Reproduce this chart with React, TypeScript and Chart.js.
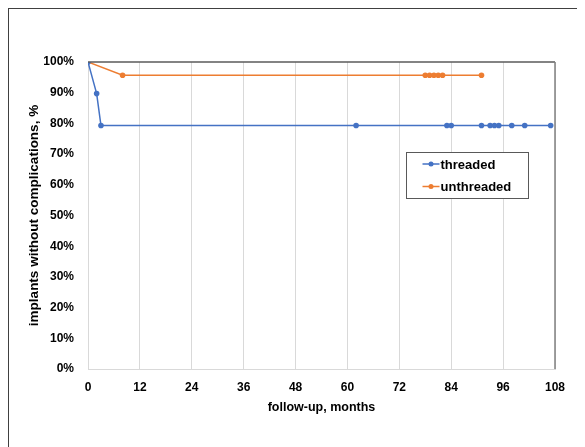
import React, { useEffect, useRef } from "react";
import { Chart, registerables } from "chart.js";

Chart.register(...registerables);

const threadedMonths = [0, 2, 3, 62, 83, 84, 91, 93, 94, 95, 98, 101, 107];
const threadedValues = [100, 89.7, 79.3, 79.3, 79.3, 79.3, 79.3, 79.3, 79.3, 79.3, 79.3, 79.3, 79.3];
const unthreadedMonths = [0, 8, 78, 79, 80, 81, 82, 91];
const unthreadedValues = [100, 95.7, 95.7, 95.7, 95.7, 95.7, 95.7, 95.7];
const seriesNames = ["threaded", "unthreaded"];
const seriesColors = ["#4472C4", "#ED7D31"];
const xTitle = "follow-up, months";
const yTitle = "implants without complications, %";

const FONT = "'Liberation Sans', Arial, sans-serif";

const framePlugin = {
  id: "framePlugin",
  afterDraw(chart: any) {
    const { ctx, chartArea } = chart;
    const { left, right, top, bottom } = chartArea;
    ctx.save();
    ctx.strokeStyle = "#5a5a5a";
    ctx.lineWidth = 1.5;
    ctx.beginPath();
    ctx.moveTo(left, top);
    ctx.lineTo(right, top);
    ctx.stroke();
    ctx.strokeStyle = "#808080";
    ctx.beginPath();
    ctx.moveTo(right, top);
    ctx.lineTo(right, bottom);
    ctx.stroke();

    const w = chartArea.width;
    const h = chartArea.height;
    const bx = Math.round(left + 0.681 * w) + 0.5;
    const by = Math.round(top + 0.293 * h) + 0.5;
    const bw = 122;
    const bh = 46;
    ctx.fillStyle = "#ffffff";
    ctx.fillRect(bx, by, bw, bh);
    ctx.strokeStyle = "#595959";
    ctx.lineWidth = 1;
    ctx.strokeRect(bx, by, bw, bh);
    ctx.font = `bold 13px ${FONT}`;
    ctx.textBaseline = "middle";
    ctx.textAlign = "left";
    seriesNames.forEach((name, i) => {
      const cy = by + 11.5 + i * 22.5;
      const lx = bx + 16;
      ctx.strokeStyle = seriesColors[i];
      ctx.lineWidth = 1.5;
      ctx.beginPath();
      ctx.moveTo(lx, cy);
      ctx.lineTo(lx + 17, cy);
      ctx.stroke();
      ctx.fillStyle = seriesColors[i];
      ctx.beginPath();
      ctx.arc(lx + 8.5, cy, 2.5, 0, Math.PI * 2);
      ctx.fill();
      ctx.fillStyle = "#000000";
      ctx.fillText(name, lx + 18, cy + 1);
    });
    ctx.restore();
  },
};

export default function App() {
  const ref = useRef<HTMLCanvasElement>(null);
  useEffect(() => {
    if (!ref.current) return;
    const mk = (xs: number[], ys: number[]) => xs.map((x, i) => ({ x, y: ys[i] }));
    const chart = new Chart(ref.current, {
      type: "line",
      data: {
        datasets: [
          {
            label: seriesNames[0],
            data: mk(threadedMonths, threadedValues),
            borderColor: seriesColors[0],
            backgroundColor: seriesColors[0],
            borderWidth: 1.5,
            pointRadius: 2.8,
            pointBorderWidth: 0,
            tension: 0,
          },
          {
            label: seriesNames[1],
            data: mk(unthreadedMonths, unthreadedValues),
            borderColor: seriesColors[1],
            backgroundColor: seriesColors[1],
            borderWidth: 1.5,
            pointRadius: 2.8,
            pointBorderWidth: 0,
            tension: 0,
          },
        ],
      },
      options: {
        animation: false,
        responsive: true,
        maintainAspectRatio: false,
        layout: { padding: { top: 54, right: 30, left: 18, bottom: 32 } },
        plugins: {
          legend: { display: false },
          tooltip: { enabled: false },
        },
        scales: {
          x: {
            type: "linear",
            min: 0,
            max: 108,
            ticks: {
              stepSize: 12,
              color: "#000",
              padding: 11,
              font: { family: FONT, size: 12, weight: "bold" },
            },
            grid: { color: "#d9d9d9", drawTicks: false, lineWidth: 1 },
            border: { display: true, color: "#d9d9d9" },
            title: {
              display: true,
              text: xTitle,
              color: "#000",
              font: { family: FONT, size: 12.5, weight: "bold" },
              padding: { top: 6, bottom: 0 },
            },
            afterFit(scale: any) {
              scale.height = 46;
            },
          },
          y: {
            min: 0,
            max: 100,
            ticks: {
              stepSize: 10,
              color: "#000",
              padding: 14,
              font: { family: FONT, size: 12, weight: "bold" },
              callback: (v: any) => v + "%",
            },
            grid: { display: false, drawTicks: false },
            border: { display: false },
            title: {
              display: true,
              text: yTitle,
              color: "#000",
              font: { family: FONT, size: 13.5, weight: "bold" },
              padding: { top: 0, bottom: 0 },
            },
            afterFit(scale: any) {
              scale.width = 62;
            },
          },
        },
      },
      plugins: [framePlugin],
    } as any);
    return () => chart.destroy();
  }, []);

  return (
    <div style={{ position: "relative", width: 577, height: 439, overflow: "hidden" }}>
      <div
        style={{
          position: "absolute",
          left: -1,
          top: -1,
          width: 700,
          height: 600,
          borderLeft: "2px solid #404040",
          borderTop: "2px solid #404040",
          boxSizing: "border-box",
        }}
      />
      <div style={{ position: "absolute", left: 0, top: 0, width: 577, height: 439 }}>
        <canvas ref={ref} />
      </div>
    </div>
  );
}
